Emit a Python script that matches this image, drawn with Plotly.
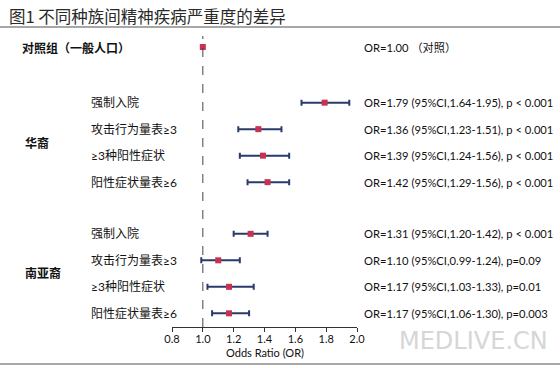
import plotly.graph_objects as go

# ---- data ----
control_label = "对照组（一般人口）"
control_or = 1.00
control_text = "OR=1.00 （对照）"

groups = ["华裔", "南亚裔"]
outcomes = ["强制入院", "攻击行为量表≥3", "≥3种阳性症状", "阳性症状量表≥6"]
or_chinese = [1.79, 1.36, 1.39, 1.42]
lo_chinese = [1.64, 1.23, 1.24, 1.29]
hi_chinese = [1.95, 1.51, 1.56, 1.56]
p_chinese = ["p < 0.001", "p < 0.001", "p < 0.001", "p < 0.001"]
or_sasian = [1.31, 1.10, 1.17, 1.17]
lo_sasian = [1.20, 0.99, 1.03, 1.06]
hi_sasian = [1.42, 1.24, 1.33, 1.30]
p_sasian = ["p < 0.001", "p=0.09", "p=0.01", "p=0.003"]
x_ticks = [0.8, 1.0, 1.2, 1.4, 1.6, 1.8, 2.0]

W, H = 560, 368
L, R, T, B = 172, 357, 36, 327
FONT = "Noto Sans CJK SC"
MIX = "Lato, Noto Sans CJK SC"

# row layout: control row at 0, then two blocks of 4 rows separated by gaps
GAP_TOP, GAP_MID = 2.1, 1.95
rows_c = [GAP_TOP + i for i in range(4)]
rows_s = [rows_c[-1] + GAP_MID + i for i in range(4)]
y_range = [10.566, -0.415]

def px(xp):
    return xp / W

def py(yp):
    return 1 - yp / H

fig = go.Figure()

all_or = [control_or] + or_chinese + or_sasian
all_lo = [control_or] + lo_chinese + lo_sasian
all_hi = [control_or] + hi_chinese + hi_sasian
all_y = [0] + rows_c + rows_s

fig.add_trace(go.Scatter(
    x=all_or, y=all_y, mode="markers",
    marker=dict(symbol="square", size=6, color="#c8314f"),
    error_x=dict(type="data", symmetric=False,
                 array=[h - o for h, o in zip(all_hi, all_or)],
                 arrayminus=[o - l for o, l in zip(all_or, all_lo)],
                 color="#2b3a6c", thickness=2, width=3),
    showlegend=False, hoverinfo="skip"))

# reference line at OR = 1
fig.add_shape(type="line", xref="x", yref="paper", x0=1.0, x1=1.0,
              y0=py(B), y1=py(T), line=dict(color="#444444", width=1, dash="dash"))

ann = []
ann.append(dict(text=control_label, x=px(20), y=0, xref="paper", yref="y",
                xanchor="left", yanchor="middle", showarrow=False,
                font=dict(size=12, color="#111111", family=FONT, weight="bold")))
ann.append(dict(text=control_text, x=px(362), y=0, xref="paper", yref="y",
                xanchor="left", yanchor="middle", showarrow=False,
                font=dict(size=11.2, color="#111111", family=MIX)))

grp_y = [(rows_c[1] + rows_c[2]) / 2 + 0.02, (rows_s[1] + rows_s[2]) / 2 - 0.05]
for grp, rows, ors, los, his, ps, gy in [
        (groups[0], rows_c, or_chinese, lo_chinese, hi_chinese, p_chinese, grp_y[0]),
        (groups[1], rows_s, or_sasian, lo_sasian, hi_sasian, p_sasian, grp_y[1])]:
    ann.append(dict(text=grp, x=px(23), y=gy, xref="paper", yref="y",
                    xanchor="left", yanchor="middle", showarrow=False,
                    font=dict(size=12, color="#111111", family=FONT, weight="bold")))
    for lab, r, o, l, h, p in zip(outcomes, rows, ors, los, his, ps):
        ann.append(dict(text=lab, x=px(89), y=r, xref="paper", yref="y",
                        xanchor="left", yanchor="middle", showarrow=False,
                        font=dict(size=12, color="#111111", family=MIX)))
        ann.append(dict(text=f"OR={o:.2f} (95%CI,{l:.2f}-{h:.2f}), {p}",
                        x=px(362), y=r, xref="paper", yref="y",
                        xanchor="left", yanchor="middle", showarrow=False,
                        font=dict(size=11.2, color="#111111", family=MIX)))

# title
ann.append(dict(text="图1 不同种族间精神疾病严重度的差异", x=px(7), y=py(16),
                xref="paper", yref="paper", xanchor="left", yanchor="middle",
                showarrow=False, font=dict(size=16.5, color="#2a2a2a", family=FONT)))
# axis title
ann.append(dict(text="Odds Ratio (OR)", x=1.4, y=py(352), xref="x", yref="paper",
                xanchor="center", yanchor="middle", showarrow=False,
                font=dict(size=11, color="#111111", family=MIX)))
# watermark
ann.append(dict(text="MEDLIVE.CN", x=px(473), y=py(341), xref="paper", yref="paper",
                xanchor="center", yanchor="middle", showarrow=False,
                font=dict(size=24, color="#d6d6d6", family="DejaVu Sans")))

# header/footer rules
fig.add_shape(type="line", xref="paper", yref="paper", x0=0, x1=1,
              y0=py(27), y1=py(27), line=dict(color="#8a8a8a", width=1.5))
fig.add_shape(type="line", xref="paper", yref="paper", x0=0, x1=1,
              y0=py(364), y1=py(364), line=dict(color="#8a8a8a", width=1.5))

fig.update_layout(
    width=W, height=H,
    margin=dict(l=0, r=0, t=0, b=0),
    paper_bgcolor="white", plot_bgcolor="white",
    annotations=ann,
    xaxis=dict(domain=[px(L), px(R)], range=[0.8, 2.0], tickvals=x_ticks,
               ticktext=[f"{v:.1f}" for v in x_ticks],
               showgrid=False, zeroline=False, showline=True,
               linecolor="#333333", linewidth=1, ticks="outside",
               ticklen=4, tickcolor="#333333", automargin=False,
               ticklabelstandoff=-2,
               tickfont=dict(size=11, color="#111111", family=MIX)),
    yaxis=dict(domain=[py(B), py(T)], range=y_range, visible=False,
               showgrid=False, zeroline=False),
)

fig.write_html("out.html", config={"displayModeBar": False},
               post_script="document.body.style.margin='0';document.body.style.padding='0';")
